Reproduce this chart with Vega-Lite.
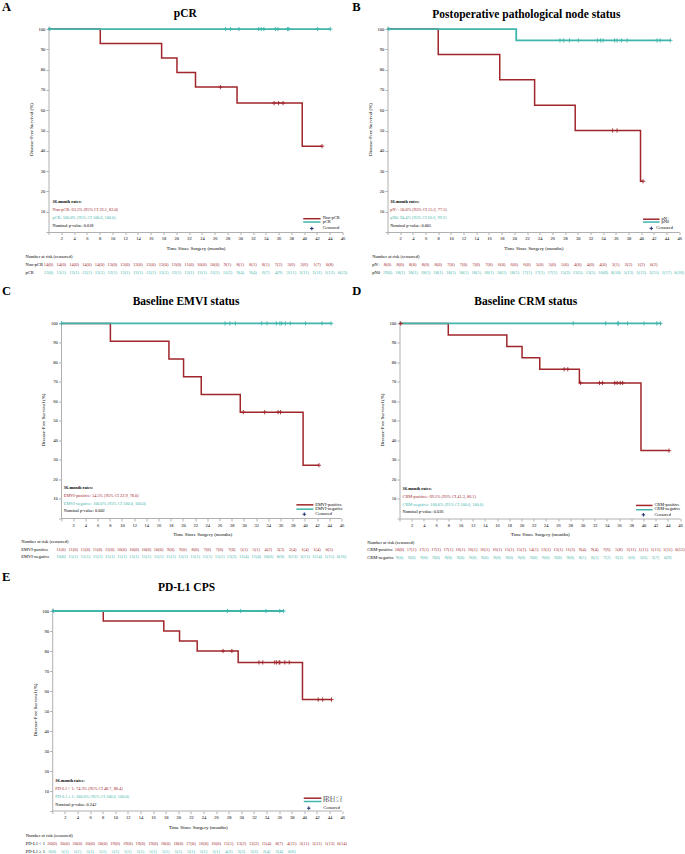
{
"$schema": "https://vega.github.io/schema/vega-lite/v6.json",
"padding": {"left": 1.5, "top": 0, "right": 0, "bottom": 0},
"background": "white",
"columns": 2,
"align": "none",
"bounds": "full",
"spacing": {"row": 9.5, "column": 4},
"datasets": {
"A_curve": [{"g":"Non-pCR","t":0,"s":100},{"g":"Non-pCR","t":8.1,"s":92.9},{"g":"Non-pCR","t":17.7,"s":85.7},{"g":"Non-pCR","t":20.1,"s":78.6},{"g":"Non-pCR","t":23.0,"s":71.4},{"g":"Non-pCR","t":29.5,"s":63.5},{"g":"Non-pCR","t":39.7,"s":42.3},{"g":"Non-pCR","t":42.8,"s":42.3},{"g":"pCR","t":0,"s":100},{"g":"pCR","t":44.1,"s":100}],
"A_cens": [{"g":"Non-pCR","t":26.9,"s":71.4},{"g":"Non-pCR","t":35.3,"s":63.5},{"g":"Non-pCR","t":36.0,"s":63.5},{"g":"Non-pCR","t":36.7,"s":63.5},{"g":"Non-pCR","t":42.8,"s":42.3},{"g":"pCR","t":0.2,"s":100},{"g":"pCR","t":27.7,"s":100},{"g":"pCR","t":28.5,"s":100},{"g":"pCR","t":29.8,"s":100},{"g":"pCR","t":32.9,"s":100},{"g":"pCR","t":33.3,"s":100},{"g":"pCR","t":33.7,"s":100},{"g":"pCR","t":35.5,"s":100},{"g":"pCR","t":35.9,"s":100},{"g":"pCR","t":37.4,"s":100},{"g":"pCR","t":37.6,"s":100},{"g":"pCR","t":42.1,"s":100},{"g":"pCR","t":44.1,"s":100}],
"A_risk": [{"g":"Non-pCR","t":0,"n":"14(0)"},{"g":"Non-pCR","t":2,"n":"14(0)"},{"g":"Non-pCR","t":4,"n":"14(0)"},{"g":"Non-pCR","t":6,"n":"14(0)"},{"g":"Non-pCR","t":8,"n":"14(0)"},{"g":"Non-pCR","t":10,"n":"13(0)"},{"g":"Non-pCR","t":12,"n":"13(0)"},{"g":"Non-pCR","t":14,"n":"13(0)"},{"g":"Non-pCR","t":16,"n":"13(0)"},{"g":"Non-pCR","t":18,"n":"12(0)"},{"g":"Non-pCR","t":20,"n":"12(0)"},{"g":"Non-pCR","t":22,"n":"11(0)"},{"g":"Non-pCR","t":24,"n":"10(0)"},{"g":"Non-pCR","t":26,"n":"10(0)"},{"g":"Non-pCR","t":28,"n":"9(1)"},{"g":"Non-pCR","t":30,"n":"8(1)"},{"g":"Non-pCR","t":32,"n":"8(1)"},{"g":"Non-pCR","t":34,"n":"8(1)"},{"g":"Non-pCR","t":36,"n":"7(2)"},{"g":"Non-pCR","t":38,"n":"3(6)"},{"g":"Non-pCR","t":40,"n":"2(6)"},{"g":"Non-pCR","t":42,"n":"1(7)"},{"g":"Non-pCR","t":44,"n":"0(8)"},
{"g":"pCR","t":0,"n":"13(0)"},{"g":"pCR","t":2,"n":"12(1)"},{"g":"pCR","t":4,"n":"12(1)"},{"g":"pCR","t":6,"n":"12(1)"},{"g":"pCR","t":8,"n":"12(1)"},{"g":"pCR","t":10,"n":"12(1)"},{"g":"pCR","t":12,"n":"12(1)"},{"g":"pCR","t":14,"n":"12(1)"},{"g":"pCR","t":16,"n":"12(1)"},{"g":"pCR","t":18,"n":"12(1)"},{"g":"pCR","t":20,"n":"12(1)"},{"g":"pCR","t":22,"n":"12(1)"},{"g":"pCR","t":24,"n":"12(1)"},{"g":"pCR","t":26,"n":"12(1)"},{"g":"pCR","t":28,"n":"11(2)"},{"g":"pCR","t":30,"n":"9(4)"},{"g":"pCR","t":32,"n":"9(4)"},{"g":"pCR","t":34,"n":"6(7)"},{"g":"pCR","t":36,"n":"4(9)"},{"g":"pCR","t":38,"n":"2(11)"},{"g":"pCR","t":40,"n":"2(11)"},{"g":"pCR","t":42,"n":"2(11)"},{"g":"pCR","t":44,"n":"1(12)"},{"g":"pCR","t":46,"n":"0(13)"}],
"B_curve": [{"g":"pN+","t":0,"s":100},{"g":"pN+","t":8.0,"s":87.5},{"g":"pN+","t":17.7,"s":75},{"g":"pN+","t":23.2,"s":62.5},{"g":"pN+","t":29.6,"s":50},{"g":"pN+","t":39.9,"s":25},{"g":"pN+","t":40.3,"s":25},{"g":"pN0","t":0,"s":100},{"g":"pN0","t":20.3,"s":94.4},{"g":"pN0","t":44.6,"s":94.4}],
"B_cens": [{"g":"pN+","t":35.5,"s":50},{"g":"pN+","t":36.2,"s":50},{"g":"pN+","t":40.3,"s":25},{"g":"pN0","t":0.2,"s":100},{"g":"pN0","t":27.2,"s":94.4},{"g":"pN0","t":27.8,"s":94.4},{"g":"pN0","t":28.7,"s":94.4},{"g":"pN0","t":30.1,"s":94.4},{"g":"pN0","t":33.1,"s":94.4},{"g":"pN0","t":33.6,"s":94.4},{"g":"pN0","t":34.0,"s":94.4},{"g":"pN0","t":35.8,"s":94.4},{"g":"pN0","t":36.2,"s":94.4},{"g":"pN0","t":36.9,"s":94.4},{"g":"pN0","t":37.8,"s":94.4},{"g":"pN0","t":42.5,"s":94.4},{"g":"pN0","t":43.0,"s":94.4},{"g":"pN0","t":44.6,"s":94.4}],
"B_risk": [{"g":"pN+","t":0,"n":"8(0)"},{"g":"pN+","t":2,"n":"8(0)"},{"g":"pN+","t":4,"n":"8(0)"},{"g":"pN+","t":6,"n":"8(0)"},{"g":"pN+","t":8,"n":"8(0)"},{"g":"pN+","t":10,"n":"7(0)"},{"g":"pN+","t":12,"n":"7(0)"},{"g":"pN+","t":14,"n":"7(0)"},{"g":"pN+","t":16,"n":"7(0)"},{"g":"pN+","t":18,"n":"6(0)"},{"g":"pN+","t":20,"n":"6(0)"},{"g":"pN+","t":22,"n":"6(0)"},{"g":"pN+","t":24,"n":"5(0)"},{"g":"pN+","t":26,"n":"5(0)"},{"g":"pN+","t":28,"n":"5(0)"},{"g":"pN+","t":30,"n":"4(0)"},{"g":"pN+","t":32,"n":"4(0)"},{"g":"pN+","t":34,"n":"4(0)"},{"g":"pN+","t":36,"n":"3(1)"},{"g":"pN+","t":38,"n":"2(2)"},{"g":"pN+","t":40,"n":"1(2)"},{"g":"pN+","t":42,"n":"0(2)"},
{"g":"pN0","t":0,"n":"19(0)"},{"g":"pN0","t":2,"n":"18(1)"},{"g":"pN0","t":4,"n":"18(1)"},{"g":"pN0","t":6,"n":"18(1)"},{"g":"pN0","t":8,"n":"18(1)"},{"g":"pN0","t":10,"n":"18(1)"},{"g":"pN0","t":12,"n":"18(1)"},{"g":"pN0","t":14,"n":"18(1)"},{"g":"pN0","t":16,"n":"18(1)"},{"g":"pN0","t":18,"n":"18(1)"},{"g":"pN0","t":20,"n":"18(1)"},{"g":"pN0","t":22,"n":"17(1)"},{"g":"pN0","t":24,"n":"17(1)"},{"g":"pN0","t":26,"n":"17(1)"},{"g":"pN0","t":28,"n":"15(3)"},{"g":"pN0","t":30,"n":"13(5)"},{"g":"pN0","t":32,"n":"13(5)"},{"g":"pN0","t":34,"n":"10(8)"},{"g":"pN0","t":36,"n":"8(10)"},{"g":"pN0","t":38,"n":"5(13)"},{"g":"pN0","t":40,"n":"5(13)"},{"g":"pN0","t":42,"n":"3(15)"},{"g":"pN0","t":44,"n":"1(17)"},{"g":"pN0","t":46,"n":"0(18)"}],
"C_curve": [{"g":"EMVI-positive","t":0,"s":100},{"g":"EMVI-positive","t":8.1,"s":90.9},{"g":"EMVI-positive","t":17.7,"s":81.8},{"g":"EMVI-positive","t":20.1,"s":72.7},{"g":"EMVI-positive","t":23.0,"s":63.6},{"g":"EMVI-positive","t":29.4,"s":54.5},{"g":"EMVI-positive","t":39.7,"s":27.3},{"g":"EMVI-positive","t":42.3,"s":27.3},{"g":"EMVI-negative","t":0,"s":100},{"g":"EMVI-negative","t":44.3,"s":100}],
"C_cens": [{"g":"EMVI-positive","t":29.9,"s":54.5},{"g":"EMVI-positive","t":33.4,"s":54.5},{"g":"EMVI-positive","t":35.6,"s":54.5},{"g":"EMVI-positive","t":36.0,"s":54.5},{"g":"EMVI-positive","t":42.3,"s":27.3},{"g":"EMVI-negative","t":0.1,"s":100},{"g":"EMVI-negative","t":26.9,"s":100},{"g":"EMVI-negative","t":27.7,"s":100},{"g":"EMVI-negative","t":28.6,"s":100},{"g":"EMVI-negative","t":32.9,"s":100},{"g":"EMVI-negative","t":33.8,"s":100},{"g":"EMVI-negative","t":35.3,"s":100},{"g":"EMVI-negative","t":35.9,"s":100},{"g":"EMVI-negative","t":36.2,"s":100},{"g":"EMVI-negative","t":36.8,"s":100},{"g":"EMVI-negative","t":37.6,"s":100},{"g":"EMVI-negative","t":40.1,"s":100},{"g":"EMVI-negative","t":42.8,"s":100},{"g":"EMVI-negative","t":44.3,"s":100}],
"C_risk": [{"g":"EMVI-positive","t":0,"n":"11(0)"},{"g":"EMVI-positive","t":2,"n":"11(0)"},{"g":"EMVI-positive","t":4,"n":"11(0)"},{"g":"EMVI-positive","t":6,"n":"11(0)"},{"g":"EMVI-positive","t":8,"n":"11(0)"},{"g":"EMVI-positive","t":10,"n":"10(0)"},{"g":"EMVI-positive","t":12,"n":"10(0)"},{"g":"EMVI-positive","t":14,"n":"10(0)"},{"g":"EMVI-positive","t":16,"n":"10(0)"},{"g":"EMVI-positive","t":18,"n":"9(0)"},{"g":"EMVI-positive","t":20,"n":"9(0)"},{"g":"EMVI-positive","t":22,"n":"8(0)"},{"g":"EMVI-positive","t":24,"n":"7(0)"},{"g":"EMVI-positive","t":26,"n":"7(0)"},{"g":"EMVI-positive","t":28,"n":"7(0)"},{"g":"EMVI-positive","t":30,"n":"5(1)"},{"g":"EMVI-positive","t":32,"n":"5(1)"},{"g":"EMVI-positive","t":34,"n":"4(2)"},{"g":"EMVI-positive","t":36,"n":"3(3)"},{"g":"EMVI-positive","t":38,"n":"2(4)"},{"g":"EMVI-positive","t":40,"n":"1(4)"},{"g":"EMVI-positive","t":42,"n":"1(4)"},{"g":"EMVI-positive","t":44,"n":"0(5)"},
{"g":"EMVI-negative","t":0,"n":"16(0)"},{"g":"EMVI-negative","t":2,"n":"15(1)"},{"g":"EMVI-negative","t":4,"n":"15(1)"},{"g":"EMVI-negative","t":6,"n":"15(1)"},{"g":"EMVI-negative","t":8,"n":"15(1)"},{"g":"EMVI-negative","t":10,"n":"15(1)"},{"g":"EMVI-negative","t":12,"n":"15(1)"},{"g":"EMVI-negative","t":14,"n":"15(1)"},{"g":"EMVI-negative","t":16,"n":"15(1)"},{"g":"EMVI-negative","t":18,"n":"15(1)"},{"g":"EMVI-negative","t":20,"n":"15(1)"},{"g":"EMVI-negative","t":22,"n":"15(1)"},{"g":"EMVI-negative","t":24,"n":"15(1)"},{"g":"EMVI-negative","t":26,"n":"15(1)"},{"g":"EMVI-negative","t":28,"n":"13(3)"},{"g":"EMVI-negative","t":30,"n":"12(4)"},{"g":"EMVI-negative","t":32,"n":"12(4)"},{"g":"EMVI-negative","t":34,"n":"10(6)"},{"g":"EMVI-negative","t":36,"n":"8(8)"},{"g":"EMVI-negative","t":38,"n":"3(13)"},{"g":"EMVI-negative","t":40,"n":"3(13)"},{"g":"EMVI-negative","t":42,"n":"2(14)"},{"g":"EMVI-negative","t":44,"n":"1(15)"},{"g":"EMVI-negative","t":46,"n":"0(16)"}],
"D_curve": [{"g":"CRM-positive","t":0,"s":100},{"g":"CRM-positive","t":8.0,"s":94.1},{"g":"CRM-positive","t":17.6,"s":88.2},{"g":"CRM-positive","t":20.1,"s":82.4},{"g":"CRM-positive","t":23.0,"s":76.5},{"g":"CRM-positive","t":29.5,"s":69.5},{"g":"CRM-positive","t":39.6,"s":34.8},{"g":"CRM-positive","t":44.2,"s":34.8},{"g":"CRM-negative","t":0,"s":100},{"g":"CRM-negative","t":42.9,"s":100}],
"D_cens": [{"g":"CRM-positive","t":0.2,"s":100},{"g":"CRM-positive","t":27.0,"s":76.5},{"g":"CRM-positive","t":27.6,"s":76.5},{"g":"CRM-positive","t":29.7,"s":69.5},{"g":"CRM-positive","t":32.8,"s":69.5},{"g":"CRM-positive","t":33.3,"s":69.5},{"g":"CRM-positive","t":35.3,"s":69.5},{"g":"CRM-positive","t":35.7,"s":69.5},{"g":"CRM-positive","t":36.2,"s":69.5},{"g":"CRM-positive","t":36.6,"s":69.5},{"g":"CRM-positive","t":44.2,"s":34.8},{"g":"CRM-negative","t":28.5,"s":100},{"g":"CRM-negative","t":33.8,"s":100},{"g":"CRM-negative","t":35.8,"s":100},{"g":"CRM-negative","t":35.9,"s":100},{"g":"CRM-negative","t":37.4,"s":100},{"g":"CRM-negative","t":40.1,"s":100},{"g":"CRM-negative","t":42.2,"s":100},{"g":"CRM-negative","t":42.8,"s":100}],
"D_risk": [{"g":"CRM-positive","t":0,"n":"18(0)"},{"g":"CRM-positive","t":2,"n":"17(1)"},{"g":"CRM-positive","t":4,"n":"17(1)"},{"g":"CRM-positive","t":6,"n":"17(1)"},{"g":"CRM-positive","t":8,"n":"17(1)"},{"g":"CRM-positive","t":10,"n":"16(1)"},{"g":"CRM-positive","t":12,"n":"16(1)"},{"g":"CRM-positive","t":14,"n":"16(1)"},{"g":"CRM-positive","t":16,"n":"16(1)"},{"g":"CRM-positive","t":18,"n":"15(1)"},{"g":"CRM-positive","t":20,"n":"15(1)"},{"g":"CRM-positive","t":22,"n":"14(1)"},{"g":"CRM-positive","t":24,"n":"13(1)"},{"g":"CRM-positive","t":26,"n":"13(1)"},{"g":"CRM-positive","t":28,"n":"11(3)"},{"g":"CRM-positive","t":30,"n":"9(4)"},{"g":"CRM-positive","t":32,"n":"9(4)"},{"g":"CRM-positive","t":34,"n":"7(6)"},{"g":"CRM-positive","t":36,"n":"5(8)"},{"g":"CRM-positive","t":38,"n":"2(11)"},{"g":"CRM-positive","t":40,"n":"1(11)"},{"g":"CRM-positive","t":42,"n":"1(11)"},{"g":"CRM-positive","t":44,"n":"1(11)"},{"g":"CRM-positive","t":46,"n":"0(12)"},
{"g":"CRM-negative","t":0,"n":"9(0)"},{"g":"CRM-negative","t":2,"n":"9(0)"},{"g":"CRM-negative","t":4,"n":"9(0)"},{"g":"CRM-negative","t":6,"n":"9(0)"},{"g":"CRM-negative","t":8,"n":"9(0)"},{"g":"CRM-negative","t":10,"n":"9(0)"},{"g":"CRM-negative","t":12,"n":"9(0)"},{"g":"CRM-negative","t":14,"n":"9(0)"},{"g":"CRM-negative","t":16,"n":"9(0)"},{"g":"CRM-negative","t":18,"n":"9(0)"},{"g":"CRM-negative","t":20,"n":"9(0)"},{"g":"CRM-negative","t":22,"n":"9(0)"},{"g":"CRM-negative","t":24,"n":"9(0)"},{"g":"CRM-negative","t":26,"n":"9(0)"},{"g":"CRM-negative","t":28,"n":"9(0)"},{"g":"CRM-negative","t":30,"n":"8(1)"},{"g":"CRM-negative","t":32,"n":"8(1)"},{"g":"CRM-negative","t":34,"n":"7(2)"},{"g":"CRM-negative","t":36,"n":"6(3)"},{"g":"CRM-negative","t":38,"n":"3(6)"},{"g":"CRM-negative","t":40,"n":"3(6)"},{"g":"CRM-negative","t":42,"n":"2(7)"},{"g":"CRM-negative","t":44,"n":"0(9)"}],
"E_curve": [{"g":"PD-L1 < 1","t":0,"s":100},{"g":"PD-L1 < 1","t":8.1,"s":95},{"g":"PD-L1 < 1","t":17.7,"s":90},{"g":"PD-L1 < 1","t":20.2,"s":85},{"g":"PD-L1 < 1","t":23.0,"s":80},{"g":"PD-L1 < 1","t":29.5,"s":74.3},{"g":"PD-L1 < 1","t":39.7,"s":55.7},{"g":"PD-L1 < 1","t":44.3,"s":55.7},{"g":"PD-L1 ≥ 1","t":0,"s":100},{"g":"PD-L1 ≥ 1","t":36.7,"s":100}],
"E_cens": [{"g":"PD-L1 < 1","t":27.1,"s":80},{"g":"PD-L1 < 1","t":28.5,"s":80},{"g":"PD-L1 < 1","t":32.8,"s":74.3},{"g":"PD-L1 < 1","t":33.4,"s":74.3},{"g":"PD-L1 < 1","t":35.3,"s":74.3},{"g":"PD-L1 < 1","t":35.6,"s":74.3},{"g":"PD-L1 < 1","t":36.0,"s":74.3},{"g":"PD-L1 < 1","t":36.1,"s":74.3},{"g":"PD-L1 < 1","t":36.9,"s":74.3},{"g":"PD-L1 < 1","t":37.6,"s":74.3},{"g":"PD-L1 < 1","t":42.2,"s":55.7},{"g":"PD-L1 < 1","t":42.9,"s":55.7},{"g":"PD-L1 < 1","t":44.3,"s":55.7},{"g":"PD-L1 ≥ 1","t":0.2,"s":100},{"g":"PD-L1 ≥ 1","t":27.8,"s":100},{"g":"PD-L1 ≥ 1","t":29.9,"s":100},{"g":"PD-L1 ≥ 1","t":33.9,"s":100},{"g":"PD-L1 ≥ 1","t":36.1,"s":100},{"g":"PD-L1 ≥ 1","t":36.7,"s":100}],
"E_risk": [{"g":"PD-L1 < 1","t":0,"n":"20(0)"},{"g":"PD-L1 < 1","t":2,"n":"20(0)"},{"g":"PD-L1 < 1","t":4,"n":"20(0)"},{"g":"PD-L1 < 1","t":6,"n":"20(0)"},{"g":"PD-L1 < 1","t":8,"n":"20(0)"},{"g":"PD-L1 < 1","t":10,"n":"19(0)"},{"g":"PD-L1 < 1","t":12,"n":"19(0)"},{"g":"PD-L1 < 1","t":14,"n":"19(0)"},{"g":"PD-L1 < 1","t":16,"n":"19(0)"},{"g":"PD-L1 < 1","t":18,"n":"18(0)"},{"g":"PD-L1 < 1","t":20,"n":"18(0)"},{"g":"PD-L1 < 1","t":22,"n":"17(0)"},{"g":"PD-L1 < 1","t":24,"n":"16(0)"},{"g":"PD-L1 < 1","t":26,"n":"16(0)"},{"g":"PD-L1 < 1","t":28,"n":"15(1)"},{"g":"PD-L1 < 1","t":30,"n":"13(2)"},{"g":"PD-L1 < 1","t":32,"n":"13(2)"},{"g":"PD-L1 < 1","t":34,"n":"11(4)"},{"g":"PD-L1 < 1","t":36,"n":"8(7)"},{"g":"PD-L1 < 1","t":38,"n":"4(11)"},{"g":"PD-L1 < 1","t":40,"n":"3(11)"},{"g":"PD-L1 < 1","t":42,"n":"3(11)"},{"g":"PD-L1 < 1","t":44,"n":"1(13)"},{"g":"PD-L1 < 1","t":46,"n":"0(14)"},
{"g":"PD-L1 ≥ 1","t":0,"n":"6(0)"},{"g":"PD-L1 ≥ 1","t":2,"n":"5(1)"},{"g":"PD-L1 ≥ 1","t":4,"n":"5(1)"},{"g":"PD-L1 ≥ 1","t":6,"n":"5(1)"},{"g":"PD-L1 ≥ 1","t":8,"n":"5(1)"},{"g":"PD-L1 ≥ 1","t":10,"n":"5(1)"},{"g":"PD-L1 ≥ 1","t":12,"n":"5(1)"},{"g":"PD-L1 ≥ 1","t":14,"n":"5(1)"},{"g":"PD-L1 ≥ 1","t":16,"n":"5(1)"},{"g":"PD-L1 ≥ 1","t":18,"n":"5(1)"},{"g":"PD-L1 ≥ 1","t":20,"n":"5(1)"},{"g":"PD-L1 ≥ 1","t":22,"n":"5(1)"},{"g":"PD-L1 ≥ 1","t":24,"n":"5(1)"},{"g":"PD-L1 ≥ 1","t":26,"n":"5(1)"},{"g":"PD-L1 ≥ 1","t":28,"n":"4(2)"},{"g":"PD-L1 ≥ 1","t":30,"n":"3(3)"},{"g":"PD-L1 ≥ 1","t":32,"n":"3(3)"},{"g":"PD-L1 ≥ 1","t":34,"n":"2(4)"},{"g":"PD-L1 ≥ 1","t":36,"n":"2(4)"},{"g":"PD-L1 ≥ 1","t":38,"n":"0(6)"}]
},
"concat": [
{
"width": 294, "height": 206,
"layer": [
{"data":{"name":"A_curve"},"transform":[{"filter":{"field":"g","equal":"Non-pCR"}}],"mark":{"type":"line","interpolate":"step-after","strokeWidth":1.5},
"encoding":{"x":{"field":"t","type":"quantitative","scale":{"domain":[0,46],"nice":false},"axis":{"values":[0,2,4,6,8,10,12,14,16,18,20,22,24,26,28,30,32,34,36,38,40,42,44,46],"tickCount":60,"labelExpr":"datum.value == 0 ? '' : datum.label","title":"Time Since Surgery (months)","labelOverlap":false}},
"y":{"field":"s","type":"quantitative","scale":{"domain":[0,101.5],"nice":false},"axis":{"values":[0,10,20,30,40,50,60,70,80,90,100],"tickCount":30,"labelExpr":"datum.value == 0 ? '' : datum.label","title":"Disease-Free Survival (%)","labelOverlap":false}},
"color":{"field":"g","type":"nominal","scale":{"domain":["Non-pCR","pCR"],"range":["#a0262b","#3fb5ac"]},"legend":null}}},
{"data":{"name":"A_curve"},"transform":[{"filter":{"field":"g","equal":"pCR"}}],"mark":{"type":"line","interpolate":"step-after","strokeWidth":1.8},"encoding":{"x":{"field":"t","type":"quantitative"},"y":{"field":"s","type":"quantitative"},"color":{"field":"g","type":"nominal"}}},
{"data":{"name":"A_cens"},"mark":{"type":"point","shape":"M-1,0L1,0M0,-1L0,1","filled":false,"size":18,"strokeWidth":0.9,"opacity":1},"encoding":{"x":{"field":"t","type":"quantitative"},"y":{"field":"s","type":"quantitative"},"color":{"field":"g","type":"nominal"}}},
{"data":{"name":"A_risk"},"transform":[{"filter":{"field":"g","equal":"Non-pCR"}}],"mark":{"type":"text","fontSize":4.5,"align":"center","baseline":"middle"},"encoding":{"x":{"field":"t","type":"quantitative"},"y":{"datum":-16.1},"text":{"field":"n"},"color":{"field":"g","type":"nominal"}}},
{"data":{"name":"A_risk"},"transform":[{"filter":{"field":"g","equal":"pCR"}}],"mark":{"type":"text","fontSize":4.5,"align":"center","baseline":"middle"},"encoding":{"x":{"field":"t","type":"quantitative"},"y":{"datum":-20.2},"text":{"field":"n"},"color":{"field":"g","type":"nominal"}}},
{"data":{"values":[{}]},"mark":{"type":"text","fontSize":4.5,"align":"left","baseline":"middle","color":"#000"},"encoding":{"x":{"datum":-3.6},"y":{"datum":-12.3},"text":{"value":"Number at risk (censored)"}}},
{"data":{"values":[{}]},"mark":{"type":"text","fontSize":4.5,"align":"left","baseline":"middle","color":"#000"},"encoding":{"x":{"datum":-3.6},"y":{"datum":-16.1},"text":{"value":"Non-pCR"}}},
{"data":{"values":[{}]},"mark":{"type":"text","fontSize":4.5,"align":"left","baseline":"middle","color":"#000"},"encoding":{"x":{"datum":-3.6},"y":{"datum":-20.2},"text":{"value":"pCR"}}},
{"data":{"values":[{}]},"mark":{"type":"text","fontSize":4.3,"align":"left","baseline":"middle","fontWeight":"bold","color":"#000"},"encoding":{"x":{"datum":0.63},"y":{"datum":14.9},"text":{"value":"36-month rates:"}}},
{"data":{"values":[{}]},"mark":{"type":"text","fontSize":4.3,"align":"left","baseline":"middle","color":"#a0262b"},"encoding":{"x":{"datum":0.63},"y":{"datum":11.0},"text":{"value":"Non-pCR: 63.5% (95% CI 33.1, 83.0)"}}},
{"data":{"values":[{}]},"mark":{"type":"text","fontSize":4.3,"align":"left","baseline":"middle","color":"#3fb5ac"},"encoding":{"x":{"datum":0.63},"y":{"datum":6.9},"text":{"value":"pCR: 100.0% (95% CI 100.0, 100.0)"}}},
{"data":{"values":[{}]},"mark":{"type":"text","fontSize":4.3,"align":"left","baseline":"middle","color":"#000"},"encoding":{"x":{"datum":0.63},"y":{"datum":3.1},"text":{"value":"Nominal p-value: 0.018"}}},
{"data":{"values":[{}]},"mark":{"type":"rule","color":"#a0262b","strokeWidth":1.5},"encoding":{"x":{"datum":39.86},"x2":{"datum":42.57},"y":{"datum":6.55}}},
{"data":{"values":[{}]},"mark":{"type":"rule","color":"#3fb5ac","strokeWidth":1.5},"encoding":{"x":{"datum":39.86},"x2":{"datum":42.57},"y":{"datum":4.9}}},
{"data":{"values":[{}]},"mark":{"type":"point","shape":"M-1,0L1,0M0,-1L0,1","filled":false,"size":12,"strokeWidth":1,"color":"#1c2e6b","opacity":1},"encoding":{"x":{"datum":41.2},"y":{"datum":1.7}}},
{"data":{"values":[{}]},"mark":{"type":"text","fontSize":4.4,"align":"left","baseline":"middle","color":"#000"},"encoding":{"x":{"datum":42.9},"y":{"datum":6.8},"text":{"value":"Non-pCR"}}},
{"data":{"values":[{}]},"mark":{"type":"text","fontSize":4.4,"align":"left","baseline":"middle","color":"#000"},"encoding":{"x":{"datum":42.9},"y":{"datum":5.0},"text":{"value":"pCR"}}},
{"data":{"values":[{}]},"mark":{"type":"text","fontSize":4.4,"align":"left","baseline":"middle","color":"#000"},"encoding":{"x":{"datum":42.9},"y":{"datum":1.8},"text":{"value":"Censored"}}},
{"data":{"values":[{}]},"mark":{"type":"text","fontSize":11.5,"fontWeight":"bold","align":"center","baseline":"middle","color":"#000"},"encoding":{"x":{"datum":21.4},"y":{"datum":107.4},"text":{"value":"pCR"}}},
{"data":{"values":[{}]},"mark":{"type":"text","fontSize":12.5,"fontWeight":"bold","align":"left","baseline":"middle","color":"#000"},"encoding":{"x":{"datum":-7.28},"y":{"datum":110.9},"text":{"value":"A"}}}
]
},
{
"width": 291.7, "height": 206,
"layer": [
{"data":{"name":"B_curve"},"transform":[{"filter":{"field":"g","equal":"pN+"}}],"mark":{"type":"line","interpolate":"step-after","strokeWidth":1.5},
"encoding":{"x":{"field":"t","type":"quantitative","scale":{"domain":[0,46],"nice":false},"axis":{"values":[0,2,4,6,8,10,12,14,16,18,20,22,24,26,28,30,32,34,36,38,40,42,44,46],"tickCount":60,"labelExpr":"datum.value == 0 ? '' : datum.label","title":"Time Since Surgery (months)","labelOverlap":false}},
"y":{"field":"s","type":"quantitative","scale":{"domain":[0,101.5],"nice":false},"axis":{"values":[0,10,20,30,40,50,60,70,80,90,100],"tickCount":30,"labelExpr":"datum.value == 0 ? '' : datum.label","title":"Disease-Free Survival (%)","labelOverlap":false}},
"color":{"field":"g","type":"nominal","scale":{"domain":["pN+","pN0"],"range":["#a0262b","#3fb5ac"]},"legend":null}}},
{"data":{"name":"B_curve"},"transform":[{"filter":{"field":"g","equal":"pN0"}}],"mark":{"type":"line","interpolate":"step-after","strokeWidth":1.8},"encoding":{"x":{"field":"t","type":"quantitative"},"y":{"field":"s","type":"quantitative"},"color":{"field":"g","type":"nominal"}}},
{"data":{"name":"B_cens"},"mark":{"type":"point","shape":"M-1,0L1,0M0,-1L0,1","filled":false,"size":18,"strokeWidth":0.9,"opacity":1},"encoding":{"x":{"field":"t","type":"quantitative"},"y":{"field":"s","type":"quantitative"},"color":{"field":"g","type":"nominal"}}},
{"data":{"name":"B_risk"},"transform":[{"filter":{"field":"g","equal":"pN+"}}],"mark":{"type":"text","fontSize":4.5,"align":"center","baseline":"middle"},"encoding":{"x":{"field":"t","type":"quantitative"},"y":{"datum":-16.1},"text":{"field":"n"},"color":{"field":"g","type":"nominal"}}},
{"data":{"name":"B_risk"},"transform":[{"filter":{"field":"g","equal":"pN0"}}],"mark":{"type":"text","fontSize":4.5,"align":"center","baseline":"middle"},"encoding":{"x":{"field":"t","type":"quantitative"},"y":{"datum":-20.2},"text":{"field":"n"},"color":{"field":"g","type":"nominal"}}},
{"data":{"values":[{}]},"mark":{"type":"text","fontSize":4.5,"align":"left","baseline":"middle","color":"#000"},"encoding":{"x":{"datum":-2.4},"y":{"datum":-12.3},"text":{"value":"Number at risk (censored)"}}},
{"data":{"values":[{}]},"mark":{"type":"text","fontSize":4.5,"align":"left","baseline":"middle","color":"#000"},"encoding":{"x":{"datum":-2.4},"y":{"datum":-16.1},"text":{"value":"pN+"}}},
{"data":{"values":[{}]},"mark":{"type":"text","fontSize":4.5,"align":"left","baseline":"middle","color":"#000"},"encoding":{"x":{"datum":-2.4},"y":{"datum":-20.2},"text":{"value":"pN0"}}},
{"data":{"values":[{}]},"mark":{"type":"text","fontSize":4.3,"align":"left","baseline":"middle","fontWeight":"bold","color":"#000"},"encoding":{"x":{"datum":0.43},"y":{"datum":14.9},"text":{"value":"36-month rates:"}}},
{"data":{"values":[{}]},"mark":{"type":"text","fontSize":4.3,"align":"left","baseline":"middle","color":"#a0262b"},"encoding":{"x":{"datum":0.43},"y":{"datum":11.0},"text":{"value":"pN+: 50.0% (95% CI 15.2, 77.5)"}}},
{"data":{"values":[{}]},"mark":{"type":"text","fontSize":4.3,"align":"left","baseline":"middle","color":"#3fb5ac"},"encoding":{"x":{"datum":0.43},"y":{"datum":6.9},"text":{"value":"pN0: 94.4% (95% CI 66.6, 99.2)"}}},
{"data":{"values":[{}]},"mark":{"type":"text","fontSize":4.3,"align":"left","baseline":"middle","color":"#000"},"encoding":{"x":{"datum":0.43},"y":{"datum":3.1},"text":{"value":"Nominal p-value: 0.005"}}},
{"data":{"values":[{}]},"mark":{"type":"rule","color":"#a0262b","strokeWidth":1.5},"encoding":{"x":{"datum":40.3},"x2":{"datum":42.9},"y":{"datum":6.3}}},
{"data":{"values":[{}]},"mark":{"type":"rule","color":"#3fb5ac","strokeWidth":1.5},"encoding":{"x":{"datum":40.3},"x2":{"datum":42.9},"y":{"datum":4.9}}},
{"data":{"values":[{}]},"mark":{"type":"point","shape":"M-1,0L1,0M0,-1L0,1","filled":false,"size":12,"strokeWidth":1,"color":"#1c2e6b","opacity":1},"encoding":{"x":{"datum":41.6},"y":{"datum":1.8}}},
{"data":{"values":[{}]},"mark":{"type":"text","fontSize":4.4,"align":"left","baseline":"middle","color":"#000"},"encoding":{"x":{"datum":43.2},"y":{"datum":6.6},"text":{"value":"pN+"}}},
{"data":{"values":[{}]},"mark":{"type":"text","fontSize":4.4,"align":"left","baseline":"middle","color":"#000"},"encoding":{"x":{"datum":43.2},"y":{"datum":4.9},"text":{"value":"pN0"}}},
{"data":{"values":[{}]},"mark":{"type":"text","fontSize":4.4,"align":"left","baseline":"middle","color":"#000"},"encoding":{"x":{"datum":42.4},"y":{"datum":1.8},"text":{"value":"Censored"}}},
{"data":{"values":[{}]},"mark":{"type":"text","fontSize":11.5,"fontWeight":"bold","align":"center","baseline":"middle","color":"#000"},"encoding":{"x":{"datum":21.9},"y":{"datum":106.8},"text":{"value":"Postoperative pathological node status"}}},
{"data":{"values":[{}]},"mark":{"type":"text","fontSize":12.5,"fontWeight":"bold","align":"left","baseline":"middle","color":"#000"},"encoding":{"x":{"datum":-5.57},"y":{"datum":110.9},"text":{"value":"B"}}}
]
},
{
"width": 293, "height": 198,
"layer": [
{"data":{"name":"C_curve"},"transform":[{"filter":{"field":"g","equal":"EMVI-positive"}}],"mark":{"type":"line","interpolate":"step-after","strokeWidth":1.5},
"encoding":{"x":{"field":"t","type":"quantitative","scale":{"domain":[-2.05,46],"nice":false},"axis":{"values":[0,2,4,6,8,10,12,14,16,18,20,22,24,26,28,30,32,34,36,38,40,42,44,46],"tickCount":60,"labelExpr":"datum.value == 0 ? '' : datum.label","title":"Time Since Surgery (months)","domain":false,"titleX":153.7,"labelOverlap":false}},
"y":{"field":"s","type":"quantitative","scale":{"domain":[0,101.5],"nice":false},"axis":{"values":[0,10,20,30,40,50,60,70,80,90,100],"tickCount":30,"labelExpr":"datum.value == 0 ? '' : datum.label","title":"Disease-Free Survival (%)","offset":-12.5,"labelOverlap":false}},
"color":{"field":"g","type":"nominal","scale":{"domain":["EMVI-positive","EMVI-negative"],"range":["#a0262b","#3fb5ac"]},"legend":null}}},
{"data":{"name":"C_curve"},"transform":[{"filter":{"field":"g","equal":"EMVI-negative"}}],"mark":{"type":"line","interpolate":"step-after","strokeWidth":1.8},"encoding":{"x":{"field":"t","type":"quantitative"},"y":{"field":"s","type":"quantitative"},"color":{"field":"g","type":"nominal"}}},
{"data":{"values":[{}]},"mark":{"type":"rule","color":"#b0b0b0","strokeWidth":1},"encoding":{"x":{"datum":0},"x2":{"datum":46},"y":{"datum":0}}},
{"data":{"name":"C_cens"},"mark":{"type":"point","shape":"M-1,0L1,0M0,-1L0,1","filled":false,"size":18,"strokeWidth":0.9,"opacity":1},"encoding":{"x":{"field":"t","type":"quantitative"},"y":{"field":"s","type":"quantitative"},"color":{"field":"g","type":"nominal"}}},
{"data":{"name":"C_risk"},"transform":[{"filter":{"field":"g","equal":"EMVI-positive"}}],"mark":{"type":"text","fontSize":4.5,"align":"center","baseline":"middle"},"encoding":{"x":{"field":"t","type":"quantitative"},"y":{"datum":-16.1},"text":{"field":"n"},"color":{"field":"g","type":"nominal"}}},
{"data":{"name":"C_risk"},"transform":[{"filter":{"field":"g","equal":"EMVI-negative"}}],"mark":{"type":"text","fontSize":4.5,"align":"center","baseline":"middle"},"encoding":{"x":{"field":"t","type":"quantitative"},"y":{"datum":-19.8},"text":{"field":"n"},"color":{"field":"g","type":"nominal"}}},
{"data":{"values":[{}]},"mark":{"type":"text","fontSize":4.5,"align":"left","baseline":"middle","color":"#000"},"encoding":{"x":{"datum":-6.5},"y":{"datum":-12.1},"text":{"value":"Number at risk (censored)"}}},
{"data":{"values":[{}]},"mark":{"type":"text","fontSize":4.5,"align":"left","baseline":"middle","color":"#000"},"encoding":{"x":{"datum":-6.5},"y":{"datum":-16.1},"text":{"value":"EMVI-positive"}}},
{"data":{"values":[{}]},"mark":{"type":"text","fontSize":4.5,"align":"left","baseline":"middle","color":"#000"},"encoding":{"x":{"datum":-6.5},"y":{"datum":-19.8},"text":{"value":"EMVI-negative"}}},
{"data":{"values":[{}]},"mark":{"type":"text","fontSize":4.3,"align":"left","baseline":"middle","fontWeight":"bold","color":"#000"},"encoding":{"x":{"datum":0.46},"y":{"datum":15.5},"text":{"value":"36-month rates:"}}},
{"data":{"values":[{}]},"mark":{"type":"text","fontSize":4.3,"align":"left","baseline":"middle","color":"#a0262b"},"encoding":{"x":{"datum":0.46},"y":{"datum":11.6},"text":{"value":"EMVI-positive: 54.5% (95% CI 22.9, 78.0)"}}},
{"data":{"values":[{}]},"mark":{"type":"text","fontSize":4.3,"align":"left","baseline":"middle","color":"#3fb5ac"},"encoding":{"x":{"datum":0.46},"y":{"datum":7.3},"text":{"value":"EMVI-negative: 100.0% (95% CI 100.0, 100.0)"}}},
{"data":{"values":[{}]},"mark":{"type":"text","fontSize":4.3,"align":"left","baseline":"middle","color":"#000"},"encoding":{"x":{"datum":0.46},"y":{"datum":3.6},"text":{"value":"Nominal p-value: 0.002"}}},
{"data":{"values":[{}]},"mark":{"type":"rule","color":"#a0262b","strokeWidth":1.5},"encoding":{"x":{"datum":38.6},"x2":{"datum":41.4},"y":{"datum":7.0}}},
{"data":{"values":[{}]},"mark":{"type":"rule","color":"#3fb5ac","strokeWidth":1.5},"encoding":{"x":{"datum":38.6},"x2":{"datum":41.4},"y":{"datum":4.8}}},
{"data":{"values":[{}]},"mark":{"type":"point","shape":"M-1,0L1,0M0,-1L0,1","filled":false,"size":12,"strokeWidth":1,"color":"#1c2e6b","opacity":1},"encoding":{"x":{"datum":39.9},"y":{"datum":2.2}}},
{"data":{"values":[{}]},"mark":{"type":"text","fontSize":4.4,"align":"left","baseline":"middle","color":"#000"},"encoding":{"x":{"datum":41.7},"y":{"datum":7.1},"text":{"value":"EMVI-positive"}}},
{"data":{"values":[{}]},"mark":{"type":"text","fontSize":4.4,"align":"left","baseline":"middle","color":"#000"},"encoding":{"x":{"datum":41.7},"y":{"datum":4.9},"text":{"value":"EMVI-negative"}}},
{"data":{"values":[{}]},"mark":{"type":"text","fontSize":4.4,"align":"left","baseline":"middle","color":"#000"},"encoding":{"x":{"datum":41.7},"y":{"datum":2.2},"text":{"value":"Censored"}}},
{"data":{"values":[{}]},"mark":{"type":"text","fontSize":11.5,"fontWeight":"bold","align":"center","baseline":"middle","color":"#000"},"encoding":{"x":{"datum":20.5},"y":{"datum":110.9},"text":{"value":"Baseline EMVI status"}}},
{"data":{"values":[{}]},"mark":{"type":"text","fontSize":12.5,"fontWeight":"bold","align":"left","baseline":"middle","color":"#000"},"encoding":{"x":{"datum":-9.675},"y":{"datum":116.4},"text":{"value":"C"}}}
]
},
{
"width": 280.5, "height": 198,
"layer": [
{"data":{"name":"D_curve"},"transform":[{"filter":{"field":"g","equal":"CRM-positive"}}],"mark":{"type":"line","interpolate":"step-after","strokeWidth":1.5},
"encoding":{"x":{"field":"t","type":"quantitative","scale":{"domain":[0,46],"nice":false},"axis":{"values":[0,2,4,6,8,10,12,14,16,18,20,22,24,26,28,30,32,34,36,38,40,42,44,46],"tickCount":60,"labelExpr":"datum.value == 0 ? '' : datum.label","title":"Time Since Surgery (months)","labelOverlap":false}},
"y":{"field":"s","type":"quantitative","scale":{"domain":[0,101.5],"nice":false},"axis":{"values":[0,10,20,30,40,50,60,70,80,90,100],"tickCount":30,"labelExpr":"datum.value == 0 ? '' : datum.label","title":"Disease-Free Survival (%)","labelOverlap":false}},
"color":{"field":"g","type":"nominal","scale":{"domain":["CRM-positive","CRM-negative"],"range":["#a0262b","#3fb5ac"]},"legend":null}}},
{"data":{"name":"D_curve"},"transform":[{"filter":{"field":"g","equal":"CRM-negative"}}],"mark":{"type":"line","interpolate":"step-after","strokeWidth":1.8},"encoding":{"x":{"field":"t","type":"quantitative"},"y":{"field":"s","type":"quantitative"},"color":{"field":"g","type":"nominal"}}},
{"data":{"name":"D_cens"},"mark":{"type":"point","shape":"M-1,0L1,0M0,-1L0,1","filled":false,"size":18,"strokeWidth":0.9,"opacity":1},"encoding":{"x":{"field":"t","type":"quantitative"},"y":{"field":"s","type":"quantitative"},"color":{"field":"g","type":"nominal"}}},
{"data":{"name":"D_risk"},"transform":[{"filter":{"field":"g","equal":"CRM-positive"}}],"mark":{"type":"text","fontSize":4.5,"align":"center","baseline":"middle"},"encoding":{"x":{"field":"t","type":"quantitative"},"y":{"datum":-16.4},"text":{"field":"n"},"color":{"field":"g","type":"nominal"}}},
{"data":{"name":"D_risk"},"transform":[{"filter":{"field":"g","equal":"CRM-negative"}}],"mark":{"type":"text","fontSize":4.5,"align":"center","baseline":"middle"},"encoding":{"x":{"field":"t","type":"quantitative"},"y":{"datum":-20.4},"text":{"field":"n"},"color":{"field":"g","type":"nominal"}}},
{"data":{"values":[{}]},"mark":{"type":"text","fontSize":4.5,"align":"left","baseline":"middle","color":"#000"},"encoding":{"x":{"datum":-5.3},"y":{"datum":-12.7},"text":{"value":"Number at risk (censored)"}}},
{"data":{"values":[{}]},"mark":{"type":"text","fontSize":4.5,"align":"left","baseline":"middle","color":"#000"},"encoding":{"x":{"datum":-5.3},"y":{"datum":-16.4},"text":{"value":"CRM-positive"}}},
{"data":{"values":[{}]},"mark":{"type":"text","fontSize":4.5,"align":"left","baseline":"middle","color":"#000"},"encoding":{"x":{"datum":-5.3},"y":{"datum":-20.4},"text":{"value":"CRM-negative"}}},
{"data":{"values":[{}]},"mark":{"type":"text","fontSize":4.3,"align":"left","baseline":"middle","fontWeight":"bold","color":"#000"},"encoding":{"x":{"datum":0.5},"y":{"datum":15.2},"text":{"value":"36-month rates:"}}},
{"data":{"values":[{}]},"mark":{"type":"text","fontSize":4.3,"align":"left","baseline":"middle","color":"#a0262b"},"encoding":{"x":{"datum":0.5},"y":{"datum":10.9},"text":{"value":"CRM-positive: 69.5% (95% CI 41.3, 86.1)"}}},
{"data":{"values":[{}]},"mark":{"type":"text","fontSize":4.3,"align":"left","baseline":"middle","color":"#3fb5ac"},"encoding":{"x":{"datum":0.5},"y":{"datum":6.8},"text":{"value":"CRM-negative: 100.0% (95% CI 100.0, 100.0)"}}},
{"data":{"values":[{}]},"mark":{"type":"text","fontSize":4.3,"align":"left","baseline":"middle","color":"#000"},"encoding":{"x":{"datum":0.5},"y":{"datum":3.1},"text":{"value":"Nominal p-value: 0.036"}}},
{"data":{"values":[{}]},"mark":{"type":"rule","color":"#a0262b","strokeWidth":1.5},"encoding":{"x":{"datum":38.8},"x2":{"datum":41.5},"y":{"datum":6.7}}},
{"data":{"values":[{}]},"mark":{"type":"rule","color":"#3fb5ac","strokeWidth":1.5},"encoding":{"x":{"datum":38.8},"x2":{"datum":41.5},"y":{"datum":4.5}}},
{"data":{"values":[{}]},"mark":{"type":"point","shape":"M-1,0L1,0M0,-1L0,1","filled":false,"size":12,"strokeWidth":1,"color":"#1c2e6b","opacity":1},"encoding":{"x":{"datum":40.0},"y":{"datum":1.9}}},
{"data":{"values":[{}]},"mark":{"type":"text","fontSize":4.4,"align":"left","baseline":"middle","color":"#000"},"encoding":{"x":{"datum":41.8},"y":{"datum":6.9},"text":{"value":"CRM-positive"}}},
{"data":{"values":[{}]},"mark":{"type":"text","fontSize":4.4,"align":"left","baseline":"middle","color":"#000"},"encoding":{"x":{"datum":41.8},"y":{"datum":4.7},"text":{"value":"CRM-negative"}}},
{"data":{"values":[{}]},"mark":{"type":"text","fontSize":4.4,"align":"left","baseline":"middle","color":"#000"},"encoding":{"x":{"datum":41.8},"y":{"datum":1.9},"text":{"value":"Censored"}}},
{"data":{"values":[{}]},"mark":{"type":"text","fontSize":11.5,"fontWeight":"bold","align":"center","baseline":"middle","color":"#000"},"encoding":{"x":{"datum":20.7},"y":{"datum":110.9},"text":{"value":"Baseline CRM status"}}},
{"data":{"values":[{}]},"mark":{"type":"text","fontSize":12.5,"fontWeight":"bold","align":"left","baseline":"middle","color":"#000"},"encoding":{"x":{"datum":-7.75},"y":{"datum":116.4},"text":{"value":"D"}}}
]
},
{
"width": 293.7, "height": 203,
"layer": [
{"data":{"name":"E_curve"},"transform":[{"filter":{"field":"g","equal":"PD-L1 < 1"}}],"mark":{"type":"line","interpolate":"step-after","strokeWidth":1.5},
"encoding":{"x":{"field":"t","type":"quantitative","scale":{"domain":[-0.587,46],"nice":false},"axis":{"values":[0,2,4,6,8,10,12,14,16,18,20,22,24,26,28,30,32,34,36,38,40,42,44,46],"tickCount":60,"labelExpr":"datum.value == 0 ? '' : datum.label","title":"Time Since Surgery (months)","domain":false,"titleX":149.2,"labelOverlap":false}},
"y":{"field":"s","type":"quantitative","scale":{"domain":[0,101.5],"nice":false},"axis":{"values":[0,10,20,30,40,50,60,70,80,90,100],"tickCount":30,"labelExpr":"datum.value == 0 ? '' : datum.label","title":"Disease-Free Survival (%)","offset":-3.7,"labelOverlap":false}},
"color":{"field":"g","type":"nominal","scale":{"domain":["PD-L1 < 1","PD-L1 ≥ 1"],"range":["#a0262b","#3fb5ac"]},"legend":null}}},
{"data":{"name":"E_curve"},"transform":[{"filter":{"field":"g","equal":"PD-L1 ≥ 1"}}],"mark":{"type":"line","interpolate":"step-after","strokeWidth":1.8},"encoding":{"x":{"field":"t","type":"quantitative"},"y":{"field":"s","type":"quantitative"},"color":{"field":"g","type":"nominal"}}},
{"data":{"values":[{}]},"mark":{"type":"rule","color":"#b0b0b0","strokeWidth":1},"encoding":{"x":{"datum":0},"x2":{"datum":46},"y":{"datum":0}}},
{"data":{"name":"E_cens"},"mark":{"type":"point","shape":"M-1,0L1,0M0,-1L0,1","filled":false,"size":18,"strokeWidth":0.9,"opacity":1},"encoding":{"x":{"field":"t","type":"quantitative"},"y":{"field":"s","type":"quantitative"},"color":{"field":"g","type":"nominal"}}},
{"data":{"name":"E_risk"},"transform":[{"filter":{"field":"g","equal":"PD-L1 < 1"}}],"mark":{"type":"text","fontSize":4.5,"align":"center","baseline":"middle"},"encoding":{"x":{"field":"t","type":"quantitative"},"y":{"datum":-16.4},"text":{"field":"n"},"color":{"field":"g","type":"nominal"}}},
{"data":{"name":"E_risk"},"transform":[{"filter":{"field":"g","equal":"PD-L1 ≥ 1"}}],"mark":{"type":"text","fontSize":4.5,"align":"center","baseline":"middle"},"encoding":{"x":{"field":"t","type":"quantitative"},"y":{"datum":-20.6},"text":{"field":"n"},"color":{"field":"g","type":"nominal"}}},
{"data":{"values":[{}]},"mark":{"type":"text","fontSize":4.5,"align":"left","baseline":"middle","color":"#000"},"encoding":{"x":{"datum":-4.2},"y":{"datum":-12.4},"text":{"value":"Number at risk (censored)"}}},
{"data":{"values":[{}]},"mark":{"type":"text","fontSize":4.5,"align":"left","baseline":"middle","color":"#000"},"encoding":{"x":{"datum":-4.2},"y":{"datum":-16.4},"text":{"value":"PD-L1 < 1"}}},
{"data":{"values":[{}]},"mark":{"type":"text","fontSize":4.5,"align":"left","baseline":"middle","color":"#000"},"encoding":{"x":{"datum":-4.2},"y":{"datum":-20.6},"text":{"value":"PD-L1 ≥ 1"}}},
{"data":{"values":[{}]},"mark":{"type":"text","fontSize":4.3,"align":"left","baseline":"middle","fontWeight":"bold","color":"#000"},"encoding":{"x":{"datum":0.5},"y":{"datum":14.9},"text":{"value":"36-month rates:"}}},
{"data":{"values":[{}]},"mark":{"type":"text","fontSize":4.3,"align":"left","baseline":"middle","color":"#a0262b"},"encoding":{"x":{"datum":0.5},"y":{"datum":10.9},"text":{"value":"PD-L1 < 1: 74.3% (95% CI 48.7, 88.4)"}}},
{"data":{"values":[{}]},"mark":{"type":"text","fontSize":4.3,"align":"left","baseline":"middle","color":"#3fb5ac"},"encoding":{"x":{"datum":0.5},"y":{"datum":6.9},"text":{"value":"PD-L1 ≥ 1: 100.0% (95% CI 100.0, 100.0)"}}},
{"data":{"values":[{}]},"mark":{"type":"text","fontSize":4.3,"align":"left","baseline":"middle","color":"#000"},"encoding":{"x":{"datum":0.5},"y":{"datum":2.9},"text":{"value":"Nominal p-value: 0.242"}}},
{"data":{"values":[{}]},"mark":{"type":"rule","color":"#a0262b","strokeWidth":1.5},"encoding":{"x":{"datum":39.9},"x2":{"datum":42.7},"y":{"datum":6.4}}},
{"data":{"values":[{}]},"mark":{"type":"rule","color":"#3fb5ac","strokeWidth":1.5},"encoding":{"x":{"datum":39.9},"x2":{"datum":42.7},"y":{"datum":4.75}}},
{"data":{"values":[{}]},"mark":{"type":"point","shape":"M-1,0L1,0M0,-1L0,1","filled":false,"size":12,"strokeWidth":1,"color":"#1c2e6b","opacity":1},"encoding":{"x":{"datum":40.7},"y":{"datum":1.4}}},
{"data":{"values":[{}]},"mark":{"type":"text","fontSize":4.4,"align":"left","baseline":"middle","color":"#000"},"encoding":{"x":{"datum":43.0},"y":{"datum":6.6},"text":{"value":"PD-L1 < 1"}}},
{"data":{"values":[{}]},"mark":{"type":"text","fontSize":4.4,"align":"left","baseline":"middle","color":"#000"},"encoding":{"x":{"datum":43.0},"y":{"datum":4.9},"text":{"value":"PD-L1 ≥ 1"}}},
{"data":{"values":[{}]},"mark":{"type":"text","fontSize":4.4,"align":"left","baseline":"middle","color":"#000"},"encoding":{"x":{"datum":43.0},"y":{"datum":1.4},"text":{"value":"Censored"}}},
{"data":{"values":[{}]},"mark":{"type":"text","fontSize":11.5,"fontWeight":"bold","align":"center","baseline":"middle","color":"#000"},"encoding":{"x":{"datum":21.3},"y":{"datum":111.65},"text":{"value":"PD-L1 CPS"}}},
{"data":{"values":[{}]},"mark":{"type":"text","fontSize":12.5,"fontWeight":"bold","align":"left","baseline":"middle","color":"#000"},"encoding":{"x":{"datum":-7.97},"y":{"datum":117.25},"text":{"value":"E"}}}
]
}
],
"config": {
"view": {"stroke": null},
"font": "Liberation Serif",
"axis": {"labelFont": "Liberation Serif", "titleFont": "Liberation Serif", "labelFontSize": 4.5, "titleFontSize": 5, "titleFontWeight": "normal", "labelColor": "#000", "titleColor": "#000", "domainColor": "#b0b0b0", "tickColor": "#b0b0b0", "tickSize": 2.5, "labelPadding": 1.3, "grid": false, "labelOverlap": false, "labelFlush": false},
"axisX": {"titlePadding": 5},
"axisY": {"titlePadding": 4.5},
"text": {"font": "Liberation Serif"}
}
}
